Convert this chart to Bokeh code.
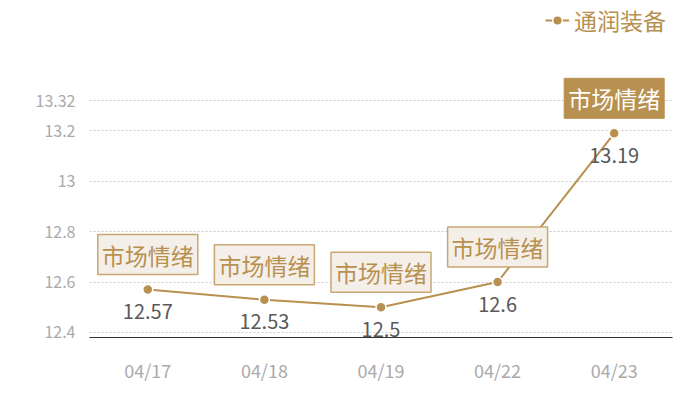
from bokeh.plotting import figure
from bokeh.models import ColumnDataSource, Legend, LegendItem, FixedTicker, Range1d, CustomJSTickFormatter
from bokeh.core.properties import value
from bokeh.embed import file_html
from bokeh.resources import INLINE

dates = ["04/17", "04/18", "04/19", "04/22", "04/23"]
prices = [12.57, 12.53, 12.5, 12.6, 13.19]
tags = ["市场情绪", "市场情绪", "市场情绪", "市场情绪", "市场情绪"]
highlight = [False, False, False, False, True]
y_ticks = [12.4, 12.6, 12.8, 13, 13.2, 13.32]
series_name = "通润装备"

FONT = "Noto Sans CJK SC"
TAN = "#b8904f"

# frame extends to the top of the page so labels/legend above 13.32 are not clipped
p = figure(x_range=dates, y_range=Range1d(12.38, 13.717), width=700, height=400,
           output_backend="svg", toolbar_location=None,
           min_border_left=89, min_border_right=28, min_border_top=0, min_border_bottom=63)
p.outline_line_color = None
p.background_fill_color = "white"

# axes
p.yaxis.ticker = FixedTicker(ticks=y_ticks)
p.yaxis.formatter = CustomJSTickFormatter(code="return String(Math.round(tick*100)/100)")
p.yaxis.axis_line_color = None
p.yaxis.major_tick_line_color = None
p.yaxis.minor_tick_line_color = None
p.yaxis.major_label_text_color = "#aaaaaa"
p.yaxis.major_label_text_font = FONT
p.yaxis.major_label_text_font_size = "16px"
p.yaxis.major_label_standoff = 8

p.xaxis.axis_line_color = "#333333"
p.xaxis.axis_line_width = 1
p.xaxis.major_tick_line_color = None
p.xaxis.minor_tick_line_color = None
p.xaxis.major_label_text_color = "#aaaaaa"
p.xaxis.major_label_text_font = FONT
p.xaxis.major_label_text_font_size = "18px"
p.xaxis.major_label_standoff = 13

p.xgrid.grid_line_color = None
p.ygrid.grid_line_color = "#cccccc"
p.ygrid.grid_line_dash = "2 2"
p.ygrid.grid_line_width = 1

src = ColumnDataSource(dict(x=dates, y=prices, lab=[str(v) for v in prices]))
line_r = p.line("x", "y", source=src, line_color=TAN, line_width=2)
circ_r = p.scatter("x", "y", source=src, size=10, fill_color=TAN, line_color="white", line_width=1.5)

# value labels
p.text("x", "y", text="lab", source=src, y_offset=22, text_align="center", text_baseline="middle",
       text_color="#595959", text_font=value(FONT), text_font_size="20px")

# tag boxes
norm = ColumnDataSource(dict(x=[d for d, h in zip(dates, highlight) if not h],
                             y=[v for v, h in zip(prices, highlight) if not h],
                             t=[t for t, h in zip(tags, highlight) if not h]))
hi = ColumnDataSource(dict(x=[d for d, h in zip(dates, highlight) if h],
                           y=[v for v, h in zip(prices, highlight) if h],
                           t=[t for t, h in zip(tags, highlight) if h]))
p.text("x", "y", text="t", source=norm, y_offset=-35, text_align="center", text_baseline="middle",
       text_color=TAN, text_font=value(FONT), text_font_size="23px",
       background_fill_color="#f4efe8", border_line_color="#c9a772", border_line_width=1.5, padding=(4, 3))
p.text("x", "y", text="t", source=hi, y_offset=-35, text_align="center", text_baseline="middle",
       text_color="white", text_font=value(FONT), text_font_size="23px",
       background_fill_color=TAN, border_line_color=TAN, border_line_width=1, padding=(4, 3))

legend = Legend(items=[LegendItem(label=series_name, renderers=[line_r, circ_r])],
                location=(456, 300), padding=0, margin=0, border_line_color=None,
                background_fill_alpha=0, label_text_color=TAN, label_text_font=FONT,
                label_text_font_size="23px", glyph_width=24, glyph_height=24, label_standoff=5,
                label_height=24)
p.add_layout(legend, "center")

open("out.html", "w").write(file_html(p, INLINE))
